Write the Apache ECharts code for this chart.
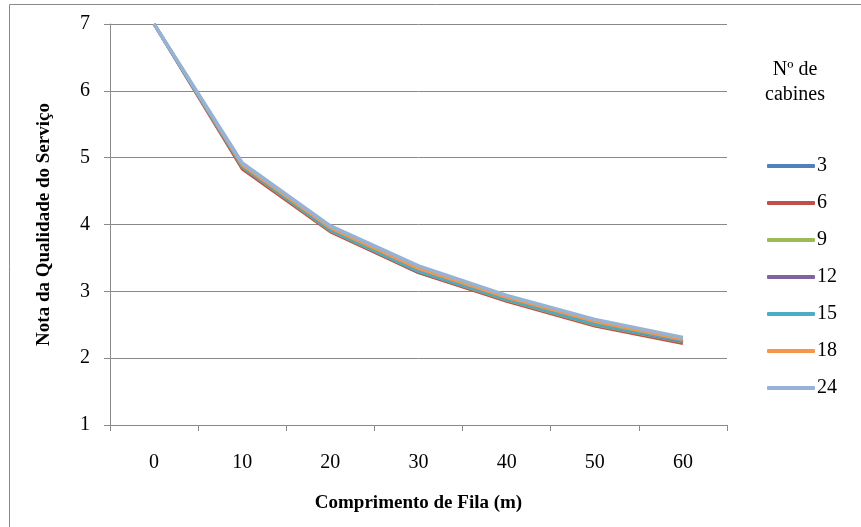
<!DOCTYPE html>
<html>
<head>
<meta charset="utf-8">
<script src="https://cdn.jsdelivr.net/npm/echarts@6/dist/echarts.min.js"></script>
<style>
  html, body { margin: 0; padding: 0; background: #fff; }
  #chart { width: 861px; height: 527px; }
</style>
</head>
<body>
<div id="chart"></div>
<script>
// comprimento de fila (m)
const categories = ['0', '10', '20', '30', '40', '50', '60']
const seriesNames = ['3', '6', '9', '12', '15', '18', '24']
const colors = ['#4F81BD', '#C0504D', '#9BBB59', '#8064A2', '#4BACC6', '#F79646', '#95B3D7']

// nota por numero de cabines
const cab3 = [7, 4.85, 3.90, 3.28, 2.86, 2.49, 2.23]
const cab6 = [7, 4.83, 3.89, 3.28, 2.85, 2.48, 2.22]
const cab9 = [7, 4.86, 3.91, 3.30, 2.87, 2.50, 2.24]
const cab12 = [7, 4.87, 3.92, 3.31, 2.88, 2.51, 2.25]
const cab15 = [7, 4.87, 3.92, 3.30, 2.88, 2.51, 2.26]
const cab18 = [7, 4.89, 3.95, 3.34, 2.91, 2.55, 2.28]
const cab24 = [7, 4.92, 3.98, 3.38, 2.94, 2.58, 2.31]
const values = [cab3, cab6, cab9, cab12, cab15, cab18, cab24]

const font = '"Liberation Serif", "Times New Roman", serif'
const gray = '#898989'

const chart = echarts.init(document.getElementById('chart'))

const option = {
  animation: false,
  textStyle: { fontFamily: font, color: '#000' },
  color: colors,
  title: {
    text: 'Nº de\ncabines',
    left: 790,
    top: 52,
    textAlign: 'center',
    textStyle: { fontFamily: font, fontSize: 20, fontWeight: 'normal', lineHeight: 25, color: '#000' }
  },
  legend: {
    orient: 'vertical',
    left: 762,
    top: 151,
    itemWidth: 48,
    itemHeight: 4,
    itemGap: 17,
    icon: 'roundRect',
    data: seriesNames,
    textStyle: { fontFamily: font, fontSize: 20, lineHeight: 20, color: '#000', padding: [0, 0, 0, -3] }
  },
  grid: { left: 110, top: 24, right: 134, bottom: 102 },
  xAxis: {
    type: 'category',
    data: categories,
    boundaryGap: true,
    name: 'Comprimento de Fila (m)',
    nameLocation: 'middle',
    nameGap: 69,
    nameTextStyle: { fontFamily: font, fontSize: 19, fontWeight: 'bold', color: '#000' },
    axisLine: { lineStyle: { color: gray, width: 1 } },
    axisTick: { show: true, interval: 0, length: 6, lineStyle: { color: gray } },
    axisLabel: { interval: 0, margin: 28, fontSize: 20, fontFamily: font, color: '#000' },
    splitLine: { show: false }
  },
  yAxis: {
    type: 'value',
    min: 1,
    max: 7,
    interval: 1,
    name: 'Nota da Qualidade do Serviço',
    nameLocation: 'middle',
    nameGap: 56,
    nameTextStyle: { fontFamily: font, fontSize: 19, fontWeight: 'bold', color: '#000' },
    axisLine: { show: true, lineStyle: { color: gray, width: 1 } },
    axisTick: { show: true, length: 6, lineStyle: { color: gray } },
    axisLabel: { margin: 20, fontSize: 20, fontFamily: font, color: '#000' },
    splitLine: { show: true, lineStyle: { color: gray, width: 1 } }
  },
  graphic: [{
    type: 'rect',
    shape: { x: 9.5, y: 4.5, width: 900, height: 600 },
    style: { fill: 'none', stroke: gray, lineWidth: 1 },
    silent: true,
    z: -1
  }],
  series: seriesNames.map((name, i) => ({
    name: name,
    type: 'line',
    data: values[i],
    symbol: 'none',
    lineStyle: { width: i === 6 ? 3.5 : 3, color: colors[i] },
    itemStyle: { color: colors[i] }
  }))
}

chart.setOption(option)
</script>
</body>
</html>
